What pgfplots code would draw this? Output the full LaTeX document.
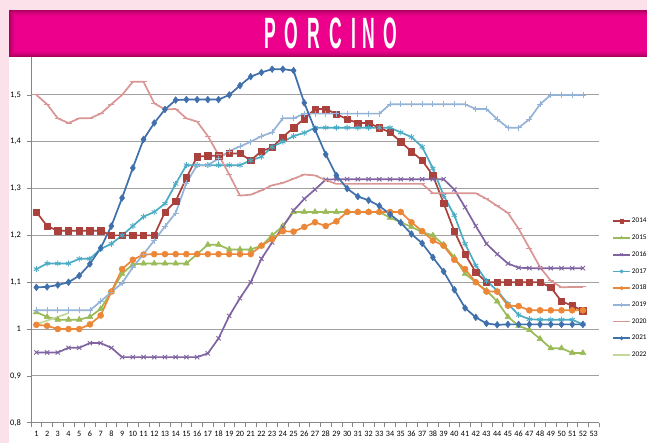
\documentclass[border=0pt]{standalone}
\usepackage{pgfplots}
\pgfplotsset{compat=1.18}
\usepackage{fontspec}
\setmainfont{Carlito}
\newfontfamily\titlefont{Liberation Sans}

\definecolor{bgpink}{RGB}{252,224,234}
\definecolor{banner}{RGB}{236,0,140}
\definecolor{bannerdark}{RGB}{120,0,60}
\definecolor{axisgray}{RGB}{134,134,134}
\definecolor{gridgray}{RGB}{160,160,160}
\definecolor{c14}{RGB}{170,65,60}
\definecolor{c15}{RGB}{155,187,89}
\definecolor{c16}{RGB}{128,100,162}
\definecolor{c17}{RGB}{75,172,198}
\definecolor{c18}{RGB}{236,135,55}
\definecolor{c19}{RGB}{149,179,215}
\definecolor{c20}{RGB}{217,150,148}
\definecolor{c21}{RGB}{64,112,172}
\definecolor{c22}{RGB}{195,214,155}

\begin{document}
\begin{tikzpicture}[x=1bp,y=1bp]
\useasboundingbox (0,0) rectangle (647,443);
\fill[bgpink] (0,0) rectangle (647,443);
\fill[white] (8.5,0) rectangle (647,433);
\begin{axis}[
  at={(31bp,20.3bp)}, anchor=south west,
  scale only axis, width=568bp, height=374.6bp,
  xmin=0.5, xmax=53.5, ymin=0.8, ymax=1.6,
  axis x line*=bottom, axis y line*=left,
  axis line style={draw=axisgray, line width=0.8bp, -},
  tick align=outside,
  xtick={1,...,53},
  minor xtick={0.5,1.5,...,53.5},
  major x tick style={draw=none},
  minor x tick style={draw=axisgray, line width=0.6bp},
  minor tick length=4bp,
  major tick length=4bp,
  ytick={0.8,0.9,1,1.1,1.2,1.3,1.4,1.5},
  yticklabels={{0,8},{0,9},{1},{1,1},{1,2},{1,3},{1,4},{1,5}},
  ymajorgrids,
  major grid style={draw=gridgray, line width=0.9bp},
  major y tick style={draw=axisgray, line width=0.6bp},
  /pgf/number format/assume math mode=true,
  xticklabel style={font=\fontsize{8.2}{9}\selectfont, inner sep=1bp, yshift=-3bp},
  yticklabel style={font=\fontsize{8.5}{10}\selectfont, inner sep=1bp, xshift=-5bp},
  every axis plot/.append style={line width=1.7bp, line join=round},
  legend cell align=left,
  legend style={draw=none, fill=none, at={(1.023,0.549)}, anchor=north west,
    font=\fontsize{7.2}{8}\selectfont, row sep=8.5bp, inner sep=0pt,
    nodes={inner sep=1bp}},
  every legend image post/.style={mark size=1.8bp},
]
% 2014
\addplot[c14, mark=square*, mark size=3.2bp, mark options={line width=0.5bp}] coordinates {
(1,1.25)(2,1.22)(3,1.21)(4,1.21)(5,1.21)(6,1.21)(7,1.21)(8,1.20)(9,1.20)(10,1.20)
(11,1.20)(12,1.20)(13,1.25)(14,1.273)(15,1.323)(16,1.368)(17,1.37)(18,1.37)(19,1.375)(20,1.375)
(21,1.36)(22,1.38)(23,1.388)(24,1.41)(25,1.43)(26,1.449)(27,1.47)(28,1.47)(29,1.459)(30,1.448)
(31,1.44)(32,1.44)(33,1.43)(34,1.42)(35,1.40)(36,1.379)(37,1.36)(38,1.328)(39,1.269)(40,1.209)
(41,1.16)(42,1.121)(43,1.10)(44,1.10)(45,1.10)(46,1.10)(47,1.10)(48,1.10)(49,1.089)(50,1.059)
(51,1.05)(52,1.039)};
\addlegendentry{2014}
% 2015
\addplot[c15, mark=triangle*, mark size=3.4bp, mark options={line width=0.5bp}] coordinates {
(1,1.036)(2,1.026)(3,1.02)(4,1.02)(5,1.02)(6,1.026)(7,1.043)(8,1.08)(9,1.118)(10,1.138)
(11,1.14)(12,1.14)(13,1.14)(14,1.14)(15,1.14)(16,1.16)(17,1.18)(18,1.18)(19,1.17)(20,1.17)
(21,1.17)(22,1.178)(23,1.20)(24,1.22)(25,1.25)(26,1.25)(27,1.25)(28,1.25)(29,1.25)(30,1.25)
(31,1.25)(32,1.25)(33,1.25)(34,1.238)(35,1.228)(36,1.218)(37,1.207)(38,1.20)(39,1.18)(40,1.153)
(41,1.118)(42,1.10)(43,1.082)(44,1.059)(45,1.026)(46,1.007)(47,0.998)(48,0.979)(49,0.959)(50,0.959)
(51,0.949)(52,0.949)};
\addlegendentry{2015}
% 2016
\addplot[c16, mark=x, mark size=3bp, mark options={line width=0.9bp}] coordinates {
(1,0.95)(2,0.95)(3,0.95)(4,0.96)(5,0.96)(6,0.97)(7,0.97)(8,0.96)(9,0.94)(10,0.94)
(11,0.94)(12,0.94)(13,0.94)(14,0.94)(15,0.94)(16,0.94)(17,0.948)(18,0.98)(19,1.028)(20,1.066)
(21,1.10)(22,1.15)(23,1.185)(24,1.218)(25,1.253)(26,1.278)(27,1.298)(28,1.319)(29,1.32)(30,1.32)
(31,1.32)(32,1.32)(33,1.32)(34,1.32)(35,1.32)(36,1.32)(37,1.32)(38,1.32)(39,1.32)(40,1.298)
(41,1.26)(42,1.22)(43,1.182)(44,1.16)(45,1.14)(46,1.131)(47,1.13)(48,1.13)(49,1.13)(50,1.13)
(51,1.13)(52,1.13)};
\addlegendentry{2016}
% 2017
\addplot[c17, mark=asterisk, mark size=3bp, mark options={line width=0.9bp}] coordinates {
(1,1.128)(2,1.14)(3,1.14)(4,1.14)(5,1.15)(6,1.15)(7,1.171)(8,1.182)(9,1.20)(10,1.22)
(11,1.24)(12,1.25)(13,1.268)(14,1.31)(15,1.35)(16,1.35)(17,1.35)(18,1.35)(19,1.35)(20,1.35)
(21,1.36)(22,1.368)(23,1.389)(24,1.40)(25,1.412)(26,1.419)(27,1.43)(28,1.43)(29,1.43)(30,1.43)
(31,1.43)(32,1.43)(33,1.43)(34,1.43)(35,1.42)(36,1.41)(37,1.389)(38,1.343)(39,1.285)(40,1.243)
(41,1.182)(42,1.136)(43,1.103)(44,1.082)(45,1.054)(46,1.03)(47,1.021)(48,1.02)(49,1.02)(50,1.02)
(51,1.02)(52,1.01)};
\addlegendentry{2017}
% 2018
\addplot[c18, mark=*, mark size=3bp, mark options={line width=0.5bp}] coordinates {
(1,1.009)(2,1.007)(3,1.00)(4,1.00)(5,1.00)(6,1.01)(7,1.029)(8,1.08)(9,1.128)(10,1.148)
(11,1.159)(12,1.16)(13,1.16)(14,1.16)(15,1.16)(16,1.16)(17,1.16)(18,1.16)(19,1.16)(20,1.16)
(21,1.16)(22,1.178)(23,1.192)(24,1.209)(25,1.208)(26,1.218)(27,1.228)(28,1.22)(29,1.23)(30,1.25)
(31,1.25)(32,1.25)(33,1.25)(34,1.25)(35,1.25)(36,1.228)(37,1.209)(38,1.189)(39,1.178)(40,1.148)
(41,1.128)(42,1.10)(43,1.08)(44,1.08)(45,1.05)(46,1.049)(47,1.04)(48,1.04)(49,1.04)(50,1.04)
(51,1.04)(52,1.04)};
\addlegendentry{2018}
% 2019
\addplot[c19, mark=+, mark size=3bp, mark options={line width=0.8bp}] coordinates {
(1,1.04)(2,1.04)(3,1.04)(4,1.04)(5,1.04)(6,1.04)(7,1.059)(8,1.079)(9,1.098)(10,1.132)
(11,1.16)(12,1.189)(13,1.219)(14,1.248)(15,1.312)(16,1.35)(17,1.35)(18,1.364)(19,1.38)(20,1.39)
(21,1.40)(22,1.412)(23,1.42)(24,1.45)(25,1.45)(26,1.46)(27,1.46)(28,1.46)(29,1.46)(30,1.46)
(31,1.46)(32,1.46)(33,1.46)(34,1.48)(35,1.48)(36,1.48)(37,1.48)(38,1.48)(39,1.48)(40,1.48)
(41,1.48)(42,1.47)(43,1.47)(44,1.448)(45,1.43)(46,1.43)(47,1.448)(48,1.48)(49,1.50)(50,1.50)
(51,1.50)(52,1.50)};
\addlegendentry{2019}
% 2020
\addplot[c20, mark=-, mark size=3bp, mark options={line width=0.9bp}] coordinates {
(1,1.50)(2,1.48)(3,1.45)(4,1.44)(5,1.45)(6,1.45)(7,1.46)(8,1.48)(9,1.50)(10,1.528)
(11,1.528)(12,1.482)(13,1.469)(14,1.47)(15,1.45)(16,1.443)(17,1.412)(18,1.372)(19,1.33)(20,1.285)
(21,1.287)(22,1.296)(23,1.307)(24,1.312)(25,1.321)(26,1.33)(27,1.328)(28,1.318)(29,1.31)(30,1.31)
(31,1.31)(32,1.31)(33,1.31)(34,1.31)(35,1.31)(36,1.31)(37,1.31)(38,1.29)(39,1.29)(40,1.29)
(41,1.29)(42,1.29)(43,1.278)(44,1.263)(45,1.248)(46,1.214)(47,1.173)(48,1.132)(49,1.103)(50,1.089)
(51,1.09)(52,1.09)};
\addlegendentry{2020}
% 2021
\addplot[c21, mark=diamond*, mark size=3.4bp, mark options={line width=0.5bp}] coordinates {
(1,1.089)(2,1.09)(3,1.094)(4,1.10)(5,1.114)(6,1.139)(7,1.173)(8,1.22)(9,1.28)(10,1.344)
(11,1.405)(12,1.44)(13,1.469)(14,1.489)(15,1.49)(16,1.49)(17,1.49)(18,1.49)(19,1.50)(20,1.52)
(21,1.539)(22,1.548)(23,1.555)(24,1.555)(25,1.552)(26,1.483)(27,1.426)(28,1.373)(29,1.328)(30,1.30)
(31,1.283)(32,1.275)(33,1.263)(34,1.245)(35,1.227)(36,1.203)(37,1.183)(38,1.153)(39,1.123)(40,1.084)
(41,1.045)(42,1.025)(43,1.012)(44,1.009)(45,1.01)(46,1.01)(47,1.01)(48,1.01)(49,1.01)(50,1.01)
(51,1.01)(52,1.01)};
\addlegendentry{2021}
% 2022
\addplot[c22, mark=none] coordinates {
(1,1.01)(2,1.018)(3,1.026)(4,1.034)};
\addlegendentry{2022}
\end{axis}
% banner
\fill[banner] (9,386) rectangle (660,433);
\foreach \i/\o in {0/0.55,1/0.42,2/0.3,3/0.2,4/0.12,5/0.06}
  \draw[bannerdark, opacity=\o, line width=1bp] (9.5+\i,386.5+\i) rectangle (660,432.5-\i);
\foreach \xx/\ch in {269.9/P,291.3/O,314.2/R,335.9/C,353.6/I,368.7/N,390.5/O}
  \node[anchor=base, inner sep=0pt, text=white, font=\titlefont\bfseries\fontsize{44}{44}\selectfont] at (\xx,394) {\scalebox{0.40}[1]{\ch}};
\end{tikzpicture}
\end{document}
